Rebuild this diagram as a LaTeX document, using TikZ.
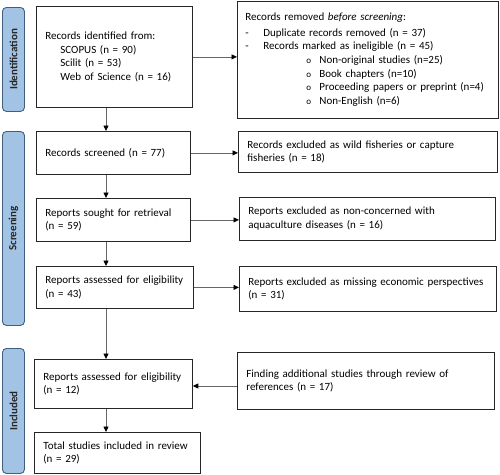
\documentclass[tikz,border=0pt]{standalone}
\usepackage{fontspec}
\setmainfont{Carlito}
\usetikzlibrary{arrows.meta,calc}
\definecolor{sidefill}{HTML}{A3C3E4}
\definecolor{sidedraw}{HTML}{3E5F80}
\newcommand{\boxfont}{\fontsize{11pt}{13.7pt}\selectfont\hyphenpenalty=10000\exhyphenpenalty=10000}
\newcommand{\sidefont}{\fontsize{11pt}{13pt}\selectfont\bfseries}
\begin{document}
\begin{tikzpicture}[x=1pt,y=-1pt,
  box/.style={draw=black!85, line width=0.8pt, fill=white, anchor=north west, align=left, inner xsep=9pt, inner ysep=2pt, font=\boxfont},
  side/.style={draw=sidedraw, line width=0.9pt, fill=sidefill, rounded corners=4pt, anchor=north west, minimum width=22pt, inner sep=0pt, text=black!85, font=\sidefont},
  arr/.style={draw=black!60, line width=0.8pt, -{Triangle[length=5.5pt,width=5pt,color=black]}}]
\useasboundingbox (0,0) rectangle (500,474);
% side labels
\node[side, minimum height=104pt] (sid) at (2,7) {\rotatebox{90}{Identification}};
\node[side, minimum height=194pt] (sscr) at (2,131) {\rotatebox{90}{Screening}};
\node[side, minimum height=125pt] (sinc) at (2,348) {\rotatebox{90}{Included}};
% left column
\node[box, text width=138pt, minimum height=101pt] (b1) at (36,6)
  {Records identified from:\\ \hspace*{15pt}SCOPUS (n = 90)\\ \hspace*{15pt}Scilit (n = 53)\\ \hspace*{15pt}Web of Science (n = 16)};
\node[box, text width=136pt, minimum height=43pt] (scr) at (36,131) {Records screened (n = 77)};
\node[box, text width=136pt, minimum height=43pt] (sou) at (36,198) {Reports sought for retrieval\\(n = 59)};
\node[box, text width=139pt, minimum height=42pt] (ass) at (36,266) {Reports assessed for eligibility\\(n = 43)};
\node[box, text width=140pt, minimum height=49pt] (inc) at (34,359) {Reports assessed for eligibility\\(n = 12)};
\node[box, text width=148pt, minimum height=41pt] (tot) at (34,432) {Total studies included in review\\(n = 29)};
% right column
\node[box, text width=245pt, minimum height=117pt, inner xsep=8pt] (rem) at (237,1)
  {Records removed \textit{before screening}:\\[1.5pt]
   \makebox[18pt][l]{-}Duplicate records removed (n = 37)\\
   \makebox[18pt][l]{-}Records marked as ineligible (n = 45)\\
   \hspace*{61pt}\makebox[13pt][l]{\small o}Non-original studies (n=25)\\
   \hspace*{61pt}\makebox[13pt][l]{\small o}Book chapters (n=10)\\
   \hspace*{61pt}\makebox[13pt][l]{\small o}Proceeding papers or preprint (n=4)\\
   \hspace*{61pt}\makebox[13pt][l]{\small o}Non-English (n=6)};
\node[box, text width=241pt, minimum height=41pt] (wild) at (238,131) {Records excluded as wild fisheries or capture\\fisheries (n = 18)};
\node[box, text width=238pt, minimum height=43pt] (nonc) at (239,197) {Reports excluded as non-concerned with\\aquaculture diseases (n = 16)};
\node[box, text width=239pt, minimum height=45pt] (econ) at (239,266) {Reports excluded as missing economic perspectives\\(n = 31)};
\node[box, text width=239pt, minimum height=57pt] (find) at (237,352) {Finding additional studies through review of\\references (n = 17)};
% arrows
\coordinate (ax) at (106,0);
\draw[arr] (b1.south -| ax) -- (scr.north -| ax);
\draw[arr] (scr.south -| ax) -- (sou.north -| ax);
\draw[arr] (sou.south -| ax) -- (ass.north -| ax);
\draw[arr] (ass.south -| ax) -- (inc.north -| ax);
\draw[arr] (inc.south -| ax) -- (tot.north -| ax);
\draw[arr] (b1.east) -- (rem.west |- b1.east);
\draw[arr] (scr.east) -- (wild.west |- scr.east);
\draw[arr] (sou.east) -- (nonc.west |- sou.east);
\draw[arr] (ass.east) -- (econ.west |- ass.east);
\coordinate (fy) at (0,386);
\draw[arr] (find.west |- fy) -- (inc.east |- fy);
\end{tikzpicture}
\end{document}
